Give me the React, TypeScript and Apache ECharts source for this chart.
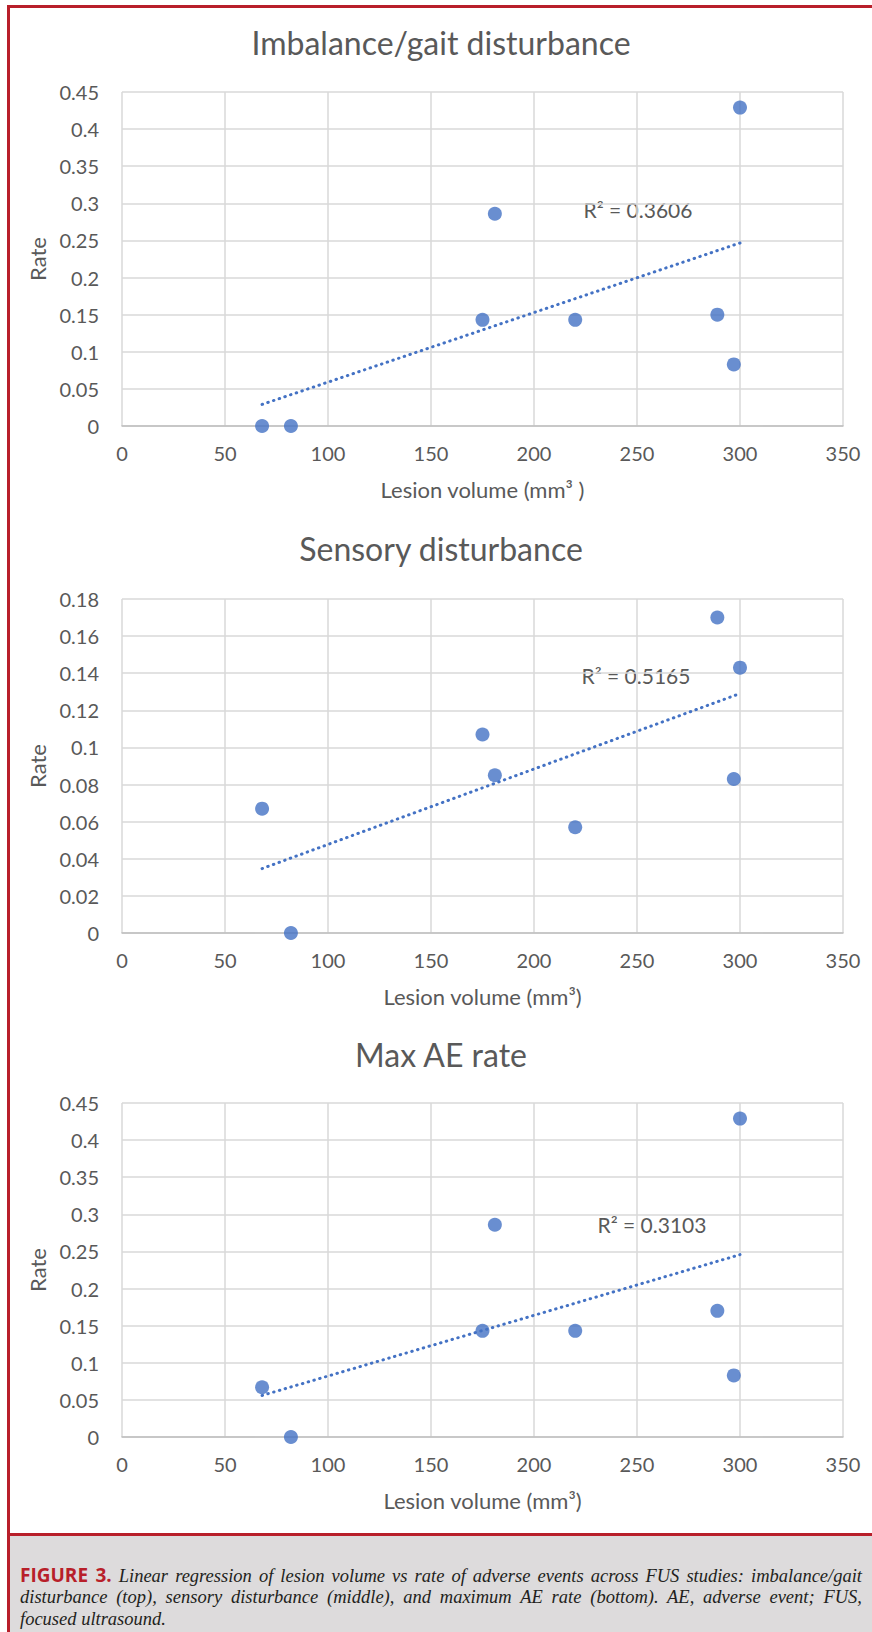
import React, { useEffect, useRef } from "react";
import * as echarts from "echarts";

// ---- data ----
const lesionVolume = [68, 82, 175, 181, 220, 289, 297, 300];
const imbalanceRate = [0, 0, 0.143, 0.286, 0.143, 0.15, 0.083, 0.429];
const sensoryRate = [0.067, 0, 0.107, 0.085, 0.057, 0.17, 0.083, 0.143];
const maxAERate = [0.067, 0, 0.143, 0.286, 0.143, 0.17, 0.083, 0.429];

const chartTitles = ["Imbalance/gait disturbance", "Sensory disturbance", "Max AE rate"];
const xAxisNames = ["Lesion volume (mm\u00B3 )", "Lesion volume (mm\u00B3)", "Lesion volume (mm\u00B3)"];
const yAxisName = "Rate";
const r2Labels = ["R\u00B2 = 0.3606", "R\u00B2 = 0.5165", "R\u00B2 = 0.3103"];
const yMax = [0.45, 0.18, 0.45];
const yStep = [0.05, 0.02, 0.05];
const xMin = 0;
const xMax = 350;
const xStep = 50;

// ---- layout / style ----
const FONT = "Lato, 'Open Sans', sans-serif";
const GREY_TEXT = "#595959";
const DOT = "#4472C4";
const RED = "#b81f2a";
const gridTops = [92, 599, 1103];
const gridHeight = 334;
const gridLeft = 122;
const gridRight = 29;
const titleY = [42, 548, 1054];
const r2Pos = [
  [638, 209],
  [636, 675],
  [652, 1224],
];

function linearFit(xs: number[], ys: number[]) {
  const n = xs.length;
  const mx = xs.reduce((a, b) => a + b, 0) / n;
  const my = ys.reduce((a, b) => a + b, 0) / n;
  let sxy = 0;
  let sxx = 0;
  for (let i = 0; i < n; i++) {
    sxy += (xs[i] - mx) * (ys[i] - my);
    sxx += (xs[i] - mx) * (xs[i] - mx);
  }
  const b = sxy / sxx;
  const a = my - b * mx;
  const lo = Math.min(...xs);
  const hi = Math.max(...xs);
  return [
    [lo, a + b * lo],
    [hi, a + b * hi],
  ];
}

function buildOption() {
  const datasets = [imbalanceRate, sensoryRate, maxAERate];
  const grids: any[] = [];
  const xAxes: any[] = [];
  const yAxes: any[] = [];
  const series: any[] = [];
  const graphics: any[] = [];

  datasets.forEach((ys, i) => {
    grids.push({
      left: gridLeft,
      right: gridRight,
      top: gridTops[i],
      height: gridHeight,
      containLabel: false,
    });
    xAxes.push({
      type: "value",
      gridIndex: i,
      min: xMin,
      max: xMax,
      interval: xStep,
      name: xAxisNames[i],
      nameLocation: "middle",
      nameGap: 52,
      nameTextStyle: { color: GREY_TEXT, fontSize: 22, fontFamily: FONT },
      axisLine: { show: true, lineStyle: { color: "#bfbfbf", width: 1.5 } },
      axisTick: { show: false },
      axisLabel: { color: GREY_TEXT, fontSize: 20, fontFamily: FONT, margin: 17 },
      splitLine: { show: true, lineStyle: { color: "#d9d9d9", width: 1.5 } },
    });
    yAxes.push({
      type: "value",
      gridIndex: i,
      min: 0,
      max: yMax[i],
      interval: yStep[i],
      name: yAxisName,
      nameLocation: "middle",
      nameRotate: 90,
      nameGap: 74,
      nameTextStyle: { color: GREY_TEXT, fontSize: 22, fontFamily: FONT },
      axisLine: { show: false },
      axisTick: { show: false },
      axisLabel: { color: GREY_TEXT, fontSize: 20, fontFamily: FONT, margin: 23 },
      splitLine: { show: true, lineStyle: { color: "#d9d9d9", width: 1.5 } },
    });
    series.push({
      type: "scatter",
      xAxisIndex: i,
      yAxisIndex: i,
      symbol: "circle",
      symbolSize: 14,
      itemStyle: { color: DOT },
      data: lesionVolume.map((x, k) => [x, ys[k]]),
      z: 3,
    });
    series.push({
      type: "line",
      xAxisIndex: i,
      yAxisIndex: i,
      showSymbol: false,
      symbol: "none",
      lineStyle: { color: DOT, width: 3, type: [0.5, 5.5], cap: "round" },
      data: linearFit(lesionVolume, ys),
      z: 2,
    });
    graphics.push({
      type: "text",
      x: 441,
      y: titleY[i],
      style: {
        text: chartTitles[i],
        align: "center",
        verticalAlign: "middle",
        fill: GREY_TEXT,
        fontSize: 32,
        fontFamily: FONT,
      },
    });
    graphics.push({
      type: "text",
      x: r2Pos[i][0],
      y: r2Pos[i][1],
      style: {
        text: r2Labels[i],
        align: "center",
        verticalAlign: "middle",
        fill: GREY_TEXT,
        fontSize: 21,
        fontFamily: FONT,
      },
    });
  });

  return {
    animation: false,
    backgroundColor: "transparent",
    textStyle: { fontFamily: FONT },
    grid: grids,
    xAxis: xAxes,
    yAxis: yAxes,
    series,
    graphic: graphics,
  };
}

const captionSerif = "'Liberation Serif', 'DejaVu Serif', serif";

export default function App() {
  const ref = useRef<HTMLDivElement>(null);
  useEffect(() => {
    if (!ref.current) return;
    const chart = echarts.init(ref.current, null, { renderer: "svg" });
    chart.setOption(buildOption() as any);
    return () => chart.dispose();
  }, []);

  const lineBase: React.CSSProperties = {
    position: "absolute",
    left: 10,
    width: 842,
    height: 22,
    lineHeight: "22px",
    whiteSpace: "nowrap",
    fontFamily: captionSerif,
    fontStyle: "italic",
    fontSize: 18.5,
    color: "#231f20",
  };
  const justified: React.CSSProperties = {
    ...lineBase,
    textAlign: "justify",
    textAlignLast: "justify" as any,
  };

  return (
    <div
      style={{
        position: "absolute",
        left: 0,
        top: 0,
        width: 872,
        height: 1632,
        background: "#ffffff",
        overflow: "hidden",
      }}
    >
      <div ref={ref} style={{ position: "absolute", left: 0, top: 0, width: 872, height: 1533 }} />
      <div style={{ position: "absolute", left: 7, top: 5, width: 865, height: 3, background: RED }} />
      <div style={{ position: "absolute", left: 7, top: 5, width: 3, height: 1627, background: RED }} />
      <div style={{ position: "absolute", left: 10, top: 1533, width: 862, height: 3, background: RED }} />
      <div
        style={{
          position: "absolute",
          left: 10,
          top: 1536,
          width: 862,
          height: 96,
          background: "#dddbdc",
        }}
      >
        <div style={{ ...justified, top: 28 }}>
          <span
            style={{
              fontFamily: "'Open Sans', 'Noto Sans', sans-serif",
              fontStyle: "normal",
              fontWeight: 700,
              fontSize: 19,
              color: RED,
            }}
          >
            FIGURE 3.
          </span>{" "}
          Linear regression of lesion volume vs rate of adverse events across FUS studies: imbalance/gait
        </div>
        <div style={{ ...justified, top: 50 }}>
          disturbance (top), sensory disturbance (middle), and maximum AE rate (bottom). AE, adverse event; FUS,
        </div>
        <div style={{ ...lineBase, top: 72 }}>focused ultrasound.</div>
      </div>
    </div>
  );
}
